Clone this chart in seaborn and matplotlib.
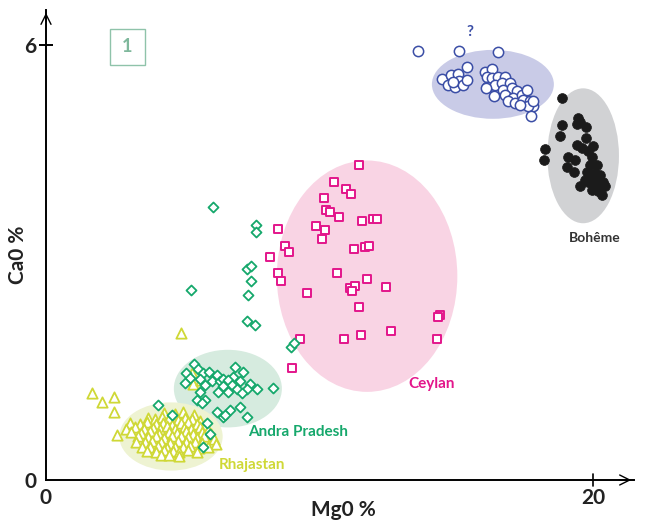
import numpy as np
import pandas as pd
import matplotlib
matplotlib.use("Agg")
import matplotlib.pyplot as plt
from matplotlib.patches import Ellipse, Rectangle
import seaborn as sns

# MgO / CaO values
boheme_x = [18.86, 19.46, 19.52, 19.40, 18.88, 19.73, 18.79, 19.73, 18.24, 18.22,
            19.40, 19.59, 20.01, 19.08, 19.34, 19.04, 19.32, 19.83, 19.95, 19.89,
            20.14, 19.77, 20.07, 20.26, 19.95, 20.19, 20.38, 19.83, 20.01, 20.26,
            20.44, 19.52, 19.95, 20.19, 20.32, 19.71, 20.07]
boheme_y = [5.27, 4.99, 4.93, 4.91, 4.90, 4.87, 4.74, 4.72, 4.56, 4.41,
            4.62, 4.58, 4.61, 4.46, 4.41, 4.31, 4.25, 4.53, 4.46, 4.34,
            4.34, 4.25, 4.23, 4.21, 4.16, 4.14, 4.11, 4.11, 4.07, 4.07,
            4.05, 4.06, 4.00, 3.98, 3.93, 4.14, 4.11]

unknown_x = [13.61, 15.11, 16.52, 15.40, 14.49, 14.80, 15.08, 14.71, 14.95, 15.10,
             15.26, 15.38, 14.89, 16.05, 16.32, 16.11, 16.30, 16.54, 16.78, 16.11,
             16.42, 16.66, 16.97, 16.08, 16.39, 16.72, 17.03, 17.21, 16.78, 17.09,
             17.39, 17.58, 16.90, 17.15, 17.45, 17.70, 17.82, 17.63, 17.33, 17.72,
             17.82]
unknown_y = [5.92, 5.92, 5.90, 5.70, 5.53, 5.59, 5.60, 5.45, 5.42, 5.50,
             5.44, 5.52, 5.49, 5.63, 5.67, 5.55, 5.54, 5.56, 5.55, 5.42,
             5.45, 5.47, 5.47, 5.40, 5.29, 5.38, 5.40, 5.36, 5.31, 5.26,
             5.31, 5.38, 5.22, 5.20, 5.24, 5.22, 5.16, 5.15, 5.17, 5.02,
             5.22]

ceylan_x = [11.43, 10.52, 10.97, 11.14, 10.16, 10.23, 10.39, 10.71, 11.54, 11.95,
            12.11, 8.48, 9.87, 10.20, 10.08, 8.75, 8.87, 8.19, 11.26, 11.67,
            11.82, 8.48, 8.59, 10.63, 11.74, 11.12, 11.30, 11.18, 12.42, 9.53,
            11.46, 14.41, 14.34, 9.29, 10.90, 11.51, 12.60, 14.31, 8.99]
ceylan_y = [4.34, 4.11, 4.01, 3.95, 3.89, 3.72, 3.70, 3.63, 3.57, 3.60,
            3.60, 3.46, 3.50, 3.45, 3.32, 3.23, 3.14, 3.08, 3.19, 3.21,
            3.22, 2.85, 2.75, 2.85, 2.77, 2.65, 2.67, 2.61, 2.66, 2.58,
            2.38, 2.28, 2.25, 1.94, 1.94, 2.00, 2.06, 1.95, 1.55]

andra_x = [6.12, 7.68, 7.68, 7.34, 7.48, 7.48, 5.30, 7.40, 7.36, 7.65,
           8.95, 9.07,
           5.41, 5.57, 5.12, 5.73, 5.97, 6.24, 6.91, 7.21, 6.85, 7.46,
           7.70, 8.29, 5.27, 5.08, 5.63, 6.06, 5.81, 6.36, 6.48, 6.67,
           6.79, 7.09, 7.34, 6.48, 6.97, 6.30, 6.67, 7.16, 5.63, 5.51,
           5.81, 5.69, 6.24, 6.48, 6.73, 7.09, 7.34, 6.54,
           4.11, 5.87, 6.00, 5.75, 4.60]
andra_y = [3.77, 3.52, 3.42, 2.91, 2.95, 2.74, 2.62, 2.55, 2.19, 2.14,
           1.84, 1.89,
           1.60, 1.53, 1.48, 1.47, 1.49, 1.45, 1.56, 1.49, 1.42, 1.33,
           1.25, 1.27, 1.40, 1.34, 1.39, 1.36, 1.31, 1.36, 1.39, 1.38,
           1.31, 1.36, 1.26, 1.29, 1.25, 1.22, 1.22, 1.20, 1.22, 1.10,
           1.10, 1.06, 0.94, 0.87, 0.97, 1.01, 0.87, 0.90,
           1.03, 0.79, 0.64, 0.46, 0.90]

rhaj_x = [1.67, 2.04, 2.49, 2.49, 2.61, 4.94, 5.35, 5.39, 5.67,
          4.30, 4.72, 5.02, 5.41,
          3.72, 3.98, 4.24, 4.51, 4.83, 5.08, 5.33, 5.62,
          3.08, 3.42, 3.69, 4.03, 4.28, 4.61, 4.92, 5.18, 5.52, 5.83,
          2.93, 3.27, 3.58, 3.92, 4.17, 4.44, 4.73, 5.04, 5.31, 5.64, 5.94,
          3.12, 3.47, 3.81, 4.12, 4.48, 4.79, 5.13, 5.38, 5.71, 6.02,
          3.38, 3.73, 4.04, 4.33, 4.62, 4.93, 5.21, 5.52, 5.79, 6.13,
          3.29, 3.62, 3.88, 4.21, 4.52, 4.83, 5.12, 5.43, 5.72, 6.21,
          3.51, 3.82, 4.09, 4.41, 4.71, 5.02, 5.28, 5.61, 5.92,
          3.69, 4.01, 4.32, 4.63, 4.88, 5.19, 5.53,
          4.22, 4.51, 4.87]
rhaj_y = [1.20, 1.07, 1.15, 0.94, 0.62, 2.02, 1.47, 1.33, 1.38,
          0.93, 0.91, 0.94, 0.90,
          0.86, 0.84, 0.87, 0.85, 0.83, 0.86, 0.84, 0.82,
          0.78, 0.77, 0.80, 0.77, 0.79, 0.76, 0.78, 0.80, 0.77, 0.76,
          0.71, 0.73, 0.70, 0.72, 0.71, 0.74, 0.71, 0.72, 0.70, 0.73, 0.69,
          0.66, 0.65, 0.67, 0.64, 0.66, 0.65, 0.67, 0.64, 0.66, 0.63,
          0.60, 0.59, 0.61, 0.58, 0.60, 0.61, 0.59, 0.58, 0.60, 0.57,
          0.53, 0.52, 0.54, 0.53, 0.51, 0.54, 0.52, 0.53, 0.51, 0.50,
          0.46, 0.45, 0.47, 0.44, 0.46, 0.45, 0.47, 0.44, 0.46,
          0.40, 0.39, 0.41, 0.40, 0.38, 0.41, 0.39,
          0.34, 0.35, 0.33]

# group outlines: center x, center y, width, height, fill
ell_names = ["?", "Bohême", "Ceylan", "Andra Pradesh", "Rhajastan"]
ell_cx = [16.34, 19.64, 11.74, 6.65, 4.57]
ell_cy = [5.455, 4.47, 2.81, 1.26, 0.60]
ell_w = [4.46, 2.62, 6.60, 3.95, 3.78]
ell_h = [0.95, 1.86, 3.19, 1.07, 0.94]
ell_fill = ["#c9cbe7", "#d1d2d4", "#f9d4e4", "#d6ebdf", "#eef3d2"]

BLUE = "#3b4ea6"
BLACK = "#1b1b1b"
PINK = "#e3168b"
GREEN = "#16a86c"
YELLOW = "#cfd836"

sns.set_theme(style="white")
plt.rcParams["font.family"] = ["Lato", "DejaVu Sans"]

fig = plt.figure(figsize=(6.47, 5.24), dpi=100)
ax = fig.add_axes([46 / 647, 44 / 524, 588 / 647, 470 / 524])
ax.set_xlim(0, 21.5)
ax.set_ylim(0, 6.48)

for cx, cy, w, h, fc in zip(ell_cx, ell_cy, ell_w, ell_h, ell_fill):
    ax.add_patch(Ellipse((cx, cy), w, h, facecolor=fc, edgecolor="none", zorder=1))

sns.scatterplot(x=rhaj_x, y=rhaj_y, marker="^", s=55, facecolor="white",
                edgecolor=YELLOW, linewidth=1.3, ax=ax, zorder=3)
sns.scatterplot(x=andra_x, y=andra_y, marker="D", s=26, facecolor="white",
                edgecolor=GREEN, linewidth=1.3, ax=ax, zorder=4)
sns.scatterplot(x=ceylan_x, y=ceylan_y, marker="s", s=40, facecolor="white",
                edgecolor=PINK, linewidth=1.4, ax=ax, zorder=3)
sns.scatterplot(x=unknown_x, y=unknown_y, marker="o", s=55, facecolor="white",
                edgecolor=BLUE, linewidth=1.1, ax=ax, zorder=3)
sns.scatterplot(x=boheme_x, y=boheme_y, marker="o", s=50, color=BLACK,
                edgecolor=BLACK, linewidth=0.5, ax=ax, zorder=3)

# group labels
ax.text(15.5, 6.18, "?", color=BLUE, fontsize=11, fontweight="bold", ha="center", va="center")
ax.text(20.07, 3.34, "Bohême", color="#333333", fontsize=10, fontweight="bold", ha="center", va="center")
ax.text(14.1, 1.32, "Ceylan", color=PINK, fontsize=11, fontweight="bold", ha="center", va="center")
ax.text(9.22, 0.66, "Andra Pradesh", color=GREEN, fontsize=11, fontweight="bold", ha="center", va="center")
ax.text(7.55, 0.21, "Rhajastan", color=YELLOW, fontsize=11, fontweight="bold", ha="center", va="center")

# panel number box
ax.add_patch(Rectangle((2.35, 5.72), 1.26, 0.5, facecolor="white", edgecolor="#8fc3aa",
                       linewidth=1.0, zorder=5))
ax.text(2.98, 5.97, "1", color="#7fb89c", fontsize=13, fontweight="bold",
        ha="center", va="center", zorder=6)

# axes: only left and bottom, with open arrow heads
sns.despine(ax=ax, top=True, right=True)
for side in ["left", "bottom"]:
    ax.spines[side].set_color("black")
    ax.spines[side].set_linewidth(1.4)
ax.annotate("", xy=(0, 1.0), xytext=(0, 0.97), xycoords="axes fraction",
            arrowprops=dict(arrowstyle="->", color="black", lw=1.0, mutation_scale=18))
ax.annotate("", xy=(1.0, 0), xytext=(0.97, 0), xycoords="axes fraction",
            arrowprops=dict(arrowstyle="->", color="black", lw=1.0, mutation_scale=18))

ax.set_xticks([0, 20])
ax.set_yticks([0, 6])
ax.tick_params(axis="both", direction="inout", length=10, width=1.4, color="black",
               labelsize=15, bottom=True, left=True)
ax.tick_params(axis="x", length=0, pad=6)
ax.tick_params(axis="y", pad=2)
ax.set_xticklabels(["0", "20"], fontweight="bold", color="#222222")
ax.set_yticklabels(["0", "6"], fontweight="bold", color="#222222")
# x tick mark only at 20
ax.plot([20, 20], [-0.08, 0.08], color="black", lw=1.2, clip_on=False, zorder=6)
ax.yaxis.get_major_ticks()[0].tick1line.set_visible(False)

ax.set_xlabel("Mg0 %", fontsize=15, fontweight="bold", color="#222222")
ax.set_ylabel("Ca0 %", fontsize=15, fontweight="bold", color="#222222")
ax.xaxis.set_label_coords(0.505, -0.042)
ax.yaxis.set_label_coords(-0.03, 0.48)
ax.grid(False)

fig.savefig("out.png", dpi=100)
